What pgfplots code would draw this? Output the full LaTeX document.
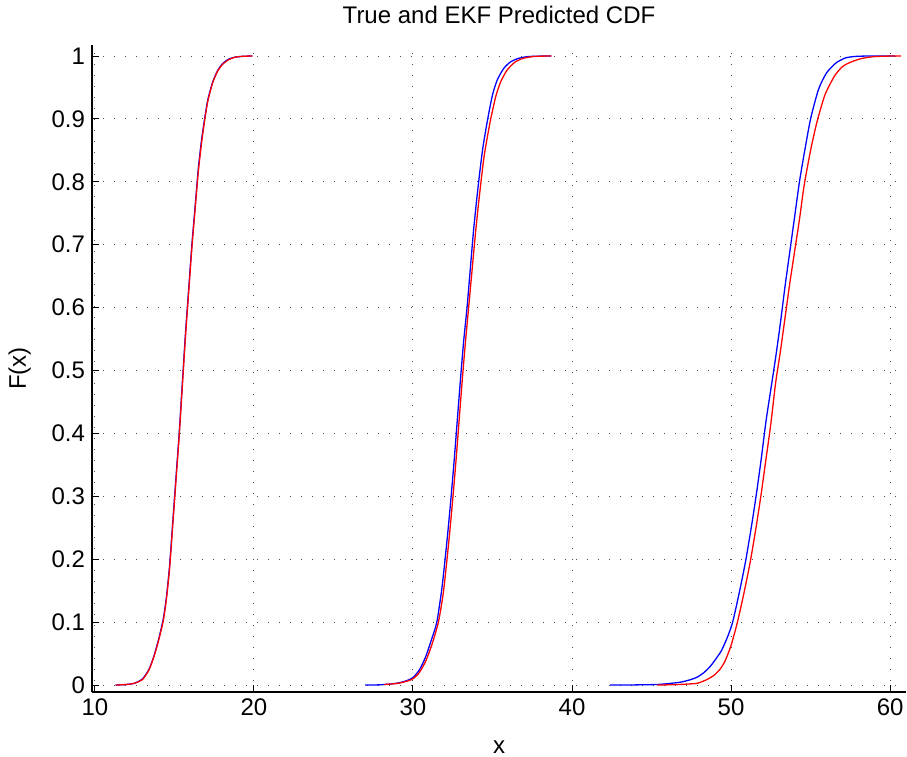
\documentclass[border=0pt]{standalone}
\usepackage{fontspec}
\setmainfont{Liberation Sans}
\usepackage{pgfplots}
\pgfplotsset{compat=1.18}
\begin{document}
\begin{tikzpicture}
\begin{axis}[
  at={(0,0)}, anchor=south west,
  scale only axis, width=407bp, height=323.5bp,
  xmin=9.82, xmax=61, ymin=-0.011, ymax=1.0175,
  axis lines*=left,
  axis line style={-, line width=0.6pt},
  xtick={10,20,30,40,50,60},
  ytick={0,0.1,0.2,0.3,0.4,0.5,0.6,0.7,0.8,0.9,1},
  yticklabels={0,0.1,0.2,0.3,0.4,0.5,0.6,0.7,0.8,0.9,1},
  tick align=inside, major tick length=3.5bp,
  tick style={black, line width=0.5pt},
  grid=major,
  grid style={black!70, line width=0.5pt, dash pattern=on 0.6bp off 4.9bp},
  /pgf/number format/assume math mode=true,
  tick label style={font=\fontsize{12bp}{14bp}\selectfont},
  title={True and EKF Predicted CDF},
  title style={at={(rel axis cs:0.5,1.0155)}, anchor=base, font=\fontsize{12bp}{14bp}\selectfont},
  xlabel={x},
  xlabel style={at={(rel axis cs:0.5,-0.0943)}, anchor=base, font=\fontsize{12bp}{14bp}\selectfont},
  ylabel={F(x)},
  ylabel style={at={(rel axis cs:-0.0811,0.5)}, anchor=base, rotate=0, font=\fontsize{12bp}{14bp}\selectfont},
  clip=false,
  every axis plot/.append style={smooth, tension=0.4, line width=0.65pt},
]
% curve 1 blue
\addplot[blue] coordinates {
(11.3,0) (12.0,0.001) (12.5,0.003) (13.0,0.010) (13.4,0.025) (13.7,0.045) (14.0,0.072)
(14.3,0.105) (14.5,0.14) (14.7,0.19) (14.9,0.26) (15.1,0.33) (15.3,0.40) (15.5,0.48)
(15.7,0.56) (15.9,0.63) (16.1,0.70) (16.3,0.76) (16.5,0.82) (16.7,0.865) (16.9,0.90)
(17.1,0.93) (17.4,0.958) (17.7,0.976) (18.0,0.987) (18.4,0.995) (18.8,0.998) (19.3,0.9995) (19.9,1.0)
};
% curve 2 blue
\addplot[blue] coordinates {
(27.0,0) (28.0,0.0005) (29.0,0.003) (29.6,0.007) (30.0,0.012) (30.4,0.024) (30.8,0.045)
(31.2,0.075) (31.5,0.10) (31.8,0.15) (32.0,0.195) (32.2,0.245) (32.4,0.30) (32.6,0.36)
(32.8,0.425) (33.0,0.49) (33.2,0.55) (33.4,0.60) (33.6,0.66) (33.8,0.72) (34.0,0.77)
(34.2,0.815) (34.4,0.855) (34.7,0.90) (35.0,0.938) (35.3,0.962) (35.7,0.98) (36.1,0.99)
(36.6,0.996) (37.2,0.999) (38.0,0.9998) (38.7,1.0)
};
% curve 3 blue
\addplot[blue] coordinates {
(42.4,0) (44.0,0.0003) (45.4,0.001) (46.3,0.003) (46.9,0.005) (47.5,0.009) (47.9,0.013)
(48.3,0.02) (48.7,0.03) (49.0,0.04) (49.4,0.055) (49.8,0.078) (50.1,0.10) (50.5,0.145)
(50.9,0.195) (51.3,0.255) (51.6,0.305) (51.9,0.36) (52.2,0.42) (52.5,0.47) (52.8,0.52)
(53.1,0.575) (53.4,0.635) (53.7,0.69) (54.0,0.745) (54.3,0.80) (54.6,0.845) (55.0,0.90)
(55.5,0.947) (56.0,0.973) (56.6,0.989) (57.2,0.997) (57.8,0.9993) (58.5,0.9999) (60.3,1.0)
};
% curve 1 red
\addplot[red] coordinates {
(11.3,0) (12.0,0.001) (12.5,0.003) (13.0,0.009) (13.4,0.024) (13.7,0.044) (14.0,0.070)
(14.3,0.102) (14.5,0.137) (14.7,0.186) (14.9,0.255) (15.1,0.325) (15.3,0.395) (15.5,0.475)
(15.7,0.555) (15.9,0.625) (16.1,0.695) (16.3,0.755) (16.5,0.815) (16.7,0.86) (16.9,0.897)
(17.1,0.928) (17.4,0.957) (17.7,0.975) (18.0,0.986) (18.4,0.994) (18.8,0.998) (19.3,0.9995) (19.9,1.0)
};
% curve 2 red
\addplot[red] coordinates {
(28.2,0.001) (29.0,0.0025) (29.6,0.006) (30.0,0.010) (30.4,0.02) (30.8,0.038) (31.2,0.065)
(31.6,0.10) (31.9,0.145) (32.1,0.19) (32.3,0.24) (32.5,0.295) (32.7,0.355) (32.9,0.42)
(33.1,0.485) (33.3,0.545) (33.5,0.60) (33.7,0.655) (33.9,0.71) (34.1,0.76) (34.3,0.805)
(34.5,0.845) (34.85,0.895) (35.2,0.935) (35.5,0.958) (35.9,0.977) (36.4,0.99) (36.9,0.996)
(37.5,0.999) (38.2,0.9998) (38.7,1.0)
};
% curve 3 red
\addplot[red] coordinates {
(45.35,0) (46.5,0.0007) (47.3,0.0017) (47.9,0.003) (48.5,0.009) (48.95,0.016) (49.3,0.025)
(49.6,0.037) (50.0,0.063) (50.4,0.10) (50.8,0.145) (51.2,0.195) (51.6,0.255) (51.9,0.305)
(52.2,0.36) (52.5,0.415) (52.8,0.48) (53.1,0.53) (53.4,0.585) (53.7,0.64) (54.0,0.69)
(54.3,0.74) (54.6,0.795) (55.0,0.85) (55.4,0.895) (55.9,0.938) (56.5,0.968) (57.0,0.983)
(57.5,0.99) (58.2,0.996) (59.0,0.999) (60.0,0.9999) (60.7,1.0)
};
\end{axis}
\pgfresetboundingbox
\path[use as bounding box] (-46bp,-32.5bp) rectangle (407.5bp,346bp);
\end{tikzpicture}
\end{document}
